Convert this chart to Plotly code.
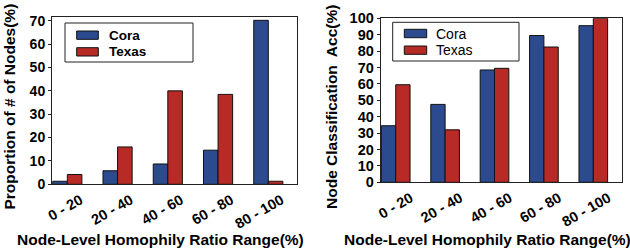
import plotly.graph_objects as go

W, H = 630, 250

categories = ["0 - 20", "20 - 40", "40 - 60", "60 - 80", "80 - 100"]
series_names = ["Cora", "Texas"]
prop_cora = [1.3, 5.8, 8.7, 14.6, 70.2]
prop_texas = [4.2, 16.0, 40.0, 38.5, 1.3]
acc_cora = [34.5, 47.5, 68.5, 89.5, 95.5]
acc_texas = [59.5, 32.0, 69.5, 82.5, 100.0]
left_yticks = [0, 10, 20, 30, 40, 50, 60, 70]
right_yticks = [0, 10, 20, 30, 40, 50, 60, 70, 80, 90, 100]

BLUE = "#2B4B8E"
RED = "#B72A26"
FONT = "Liberation Sans"

def px(x):
    return x / W

def py(y):
    return (H - y) / H

fig = go.Figure()
for name, vals, col in [("Cora", prop_cora, BLUE), ("Texas", prop_texas, RED)]:
    fig.add_trace(go.Bar(x=categories, y=vals, name=name, marker=dict(color=col, line=dict(color="#111", width=1)),
                         xaxis="x", yaxis="y", showlegend=False))
for name, vals, col in [("Cora", acc_cora, BLUE), ("Texas", acc_texas, RED)]:
    fig.add_trace(go.Bar(x=categories, y=vals, name=name, marker=dict(color=col, line=dict(color="#111", width=1)),
                         xaxis="x2", yaxis="y2", showlegend=False))

axis_line = dict(showline=True, linecolor="#222", linewidth=1, showgrid=False, zeroline=False, automargin=False)
xtickfont = dict(family=FONT, size=14.5, color="black", weight="bold")
tickfont_l = dict(family=FONT, size=14, color="black", weight="bold")
tickfont_r = dict(family=FONT, size=14.5, color="black", weight="bold")

fig.update_layout(
    width=W, height=H, margin=dict(l=0, r=0, t=0, b=0, autoexpand=False),
    paper_bgcolor="white", plot_bgcolor="white",
    barmode="group", bargap=0.42, bargroupgap=0,
    xaxis=dict(domain=[px(52), px(296.7)], anchor="y", range=[-0.305, 4.565], type="category",
               tickangle=-30, ticks="", tickfont=xtickfont, ticklabelshift=13, ticklabelstandoff=1,
               mirror=True, **axis_line),
    yaxis=dict(domain=[py(184.3), py(17.3)], anchor="x", range=[0, 71.5], tickvals=left_yticks,
               ticks="outside", ticklen=3, tickcolor="#222", tickfont=tickfont_l, mirror=True, **axis_line),
    yaxis3=dict(domain=[py(184.3), py(17.3)], anchor="x", overlaying="y", side="right", range=[0, 71.5],
                tickvals=left_yticks, ticks="inside", ticklen=3, tickcolor="#222", showticklabels=False,
                showgrid=False, zeroline=False, showline=False, automargin=False),
    xaxis2=dict(domain=[px(380.7), px(621.7)], anchor="y2", range=[-0.304, 4.575], type="category",
                tickangle=-30, ticks="", tickfont=xtickfont, ticklabelshift=15, ticklabelstandoff=1,
                mirror=True, **axis_line),
    yaxis2=dict(domain=[py(182.3), py(18.3)], anchor="x2", range=[0, 100], tickvals=right_yticks,
                ticks="outside", ticklen=3, tickcolor="#222", tickfont=tickfont_r, mirror=True, **axis_line),
    yaxis4=dict(domain=[py(182.3), py(18.3)], anchor="x2", overlaying="y2", side="right", range=[0, 100],
                tickvals=right_yticks, ticks="inside", ticklen=3, tickcolor="#222", showticklabels=False,
                showgrid=False, zeroline=False, showline=False, automargin=False),
)

ann = []
title_font = dict(family=FONT, size=15.5, color="black", weight="bold")
ann.append(dict(text="Proportion of # of Nodes(%)", x=px(9), y=py(106.5), textangle=-90, font=title_font))
ann.append(dict(text="Node Classification  Acc(%)", x=px(331), y=py(107), textangle=-90, font=title_font))
ann.append(dict(text="Node-Level Homophily Ratio Range(%)", x=px(160), y=py(239), font=title_font))
ann.append(dict(text="Node-Level Homophily Ratio Range(%)", x=px(487), y=py(239), font=title_font))

shapes = []
# legends (decoration)
def legend(box, sw_x, sw_ys, text_x, bold, size):
    x0, y0, x1, y1 = box
    shapes.append(dict(type="rect", xref="paper", yref="paper", x0=px(x0), x1=px(x1), y0=py(y1), y1=py(y0),
                       line=dict(color="#222", width=1), fillcolor="white", layer="above"))
    for (ya, yb), col, nm in zip(sw_ys, [BLUE, RED], series_names):
        shapes.append(dict(type="rect", xref="paper", yref="paper", x0=px(sw_x[0]), x1=px(sw_x[1]),
                           y0=py(yb), y1=py(ya), line=dict(color="#111", width=1), fillcolor=col, layer="above"))
        f = dict(family=FONT, size=size, color="black")
        if bold:
            f["weight"] = "bold"
        ann.append(dict(text=nm, x=px(text_x), y=py((ya + yb) / 2), xanchor="left", yanchor="middle", font=f))

legend((65, 23, 193, 62), (76.7, 98.3), [(31, 39.3), (47.7, 56)], 107, True, 13.5)
legend((392.7, 22.3, 519, 61), (404.3, 426.7), [(29.3, 37.7), (46, 54.3)], 434, False, 14)

for a in ann:
    a.update(xref="paper", yref="paper", showarrow=False)
    a.setdefault("xanchor", "center")
    a.setdefault("yanchor", "middle")
fig.update_layout(annotations=ann, shapes=shapes)

fig.write_html("out.html", config={"displayModeBar": False},
               post_script="document.body.style.margin='0';document.body.style.padding='0';")
